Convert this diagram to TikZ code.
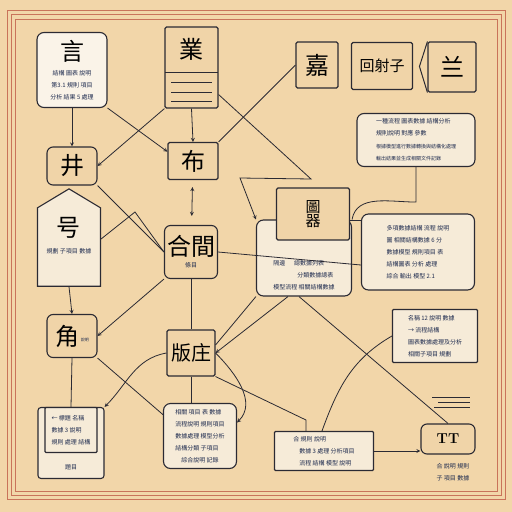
\documentclass[tikz,border=0pt]{standalone}
\usepackage{fontspec}
\usepackage{xcolor}
\usepackage{tikz}
\usetikzlibrary{shapes.symbols}
\newfontfamily\cjk{Noto Sans CJK SC}
\newcommand{\glyph}[1]{{\cjk\fontsize{24}{25}\selectfont #1}}
\newcommand{\midglyph}[1]{{\cjk\fontsize{15}{16}\selectfont #1}}
\newcommand{\mini}[1]{{\cjk\fontsize{6}{7.5}\selectfont\color{textblue}#1}}
\definecolor{paper}{HTML}{F2D6A9}
\definecolor{ink}{HTML}{2B2A33}
\definecolor{boxfill}{HTML}{F0D4A8}
\definecolor{cardfill}{HTML}{F6EBD8}
\definecolor{frame}{HTML}{C9735A}
\definecolor{textblue}{HTML}{1E2B4F}

\begin{document}
\begin{tikzpicture}[x=1pt, y=-1pt]
        % Define styles
        \tikzstyle{glyphbox} = [rectangle, rounded corners=6pt, draw=ink, line width=1.1pt, fill=boxfill, align=center, inner sep=1pt]
        \tikzstyle{plainbox} = [rectangle, rounded corners=1.5pt, draw=ink, line width=1.1pt, fill=boxfill, align=center, inner sep=1pt]
        \tikzstyle{card} = [rectangle, rounded corners=7pt, draw=ink, line width=1.1pt, fill=cardfill, align=left, inner sep=2pt]
        \tikzstyle{sqcard} = [rectangle, rounded corners=1pt, draw=ink, line width=1.1pt, fill=cardfill, align=left, inner sep=2pt]
        \tikzstyle{arrow} = [ink, line width=0.8pt, ->, >=stealth]
        \tikzstyle{link} = [ink, line width=0.8pt]

        % Paper and frame
        \fill[paper] (0,0) rectangle (512,512);
        \useasboundingbox (0,0) rectangle (512,512);
        \draw[frame, line width=0.6pt] (7,10) rectangle (505,499);
        \draw[frame, line width=0.6pt] (11,14) rectangle (501,495);
        \draw[frame, line width=0.6pt] (15,19) rectangle (497,491);

        % Nodes
        \node [card, align=center, fill=cardfill!60!white, minimum width=70pt, minimum height=75pt] (yan) at (72,70)
              {\glyph{言}\\[3pt]\mini{結構 圖表 說明}\\\mini{第3.1 規則 項目}\\\mini{分析 結果 5 處理}};
        \node [plainbox, minimum width=53pt, minimum height=81pt] (ye) at (191.5,67.5) {};
        \node (yetop) at (191.5,49) {\glyph{業}};
        \node [plainbox, minimum width=42pt, minimum height=46pt] (jia) at (317,65) {\glyph{嘉}};
        \node [plainbox, minimum width=61pt, minimum height=47pt] (hui) at (382,66) {\midglyph{回射子}};
        \node [plainbox, minimum width=48pt, minimum height=50pt] (lan) at (452,67) {\glyph{兰}};
        \node [card, minimum width=118pt, minimum height=53pt] (note1) at (416,140)
              {\mini{一種流程 圖表數據 結構分析}\\\mini{規則說明 對應 參數}\\[1pt]\mini{\fontsize{5}{6}\selectfont 根據模型進行數據轉換與結構化處理}\\\mini{\fontsize{5}{6}\selectfont 輸出結果並生成相關文件記錄}};
        \node [glyphbox, minimum width=50pt, minimum height=38pt] (jing) at (72,166) {\glyph{井}};
        \node [plainbox, minimum width=50pt, minimum height=37pt] (bu) at (193,161) {\glyph{布}};
        \node [signal, signal to=north, signal pointer angle=118, draw=ink, line width=1.1pt, fill=cardfill,
               minimum width=63pt, minimum height=79pt, inner sep=1pt] (hao) at (69,247) {};
        \node [align=center] (haotxt) at (69,236) {\glyph{号}\\[5pt]\mini{規劃 子項目 數據}};
        \node [glyphbox, minimum width=53pt, minimum height=53pt] (hejian) at (191,252) {\glyph{合間}\\\mini{條目}};
        \node [card, minimum width=95pt, minimum height=76pt] (panel) at (304,258) {};
        \node [plainbox, minimum width=73pt, minimum height=52pt] (tu) at (313,214) {\midglyph{圖}\\\midglyph{器}};
        \node [align=left] (paneltxt) at (304,275) {\mini{隔邊 \quad\ 總數據列表}\\\mini{\qquad\qquad 分類數據總表}\\\mini{模型流程 相關結構數據}};
        \node [card, minimum width=113pt, minimum height=76pt] (note2) at (418,252)
              {\mini{多項數據結構 流程 說明}\\\mini{圖 相關結構數據 6 分}\\\mini{數據模型 規則項目 表}\\\mini{結構圖表 分析 處理}\\\mini{綜合 輸出 模型 2.1}};
        \node [sqcard, minimum width=85pt, minimum height=53pt] (note3) at (435,336)
              {\mini{名稱 12 說明 數據}\\\mini{→ 流程結構}\\\mini{圖表數據處理及分析}\\\mini{相關子項目 規劃}};
        \node [glyphbox, minimum width=50pt, minimum height=43pt] (jiao) at (72,336) {\glyph{角}\,\raisebox{4pt}{\mini{\fontsize{4}{5}\selectfont 說明}}};
        \node [plainbox, minimum width=48pt, minimum height=46pt] (ban) at (191,353) {{\cjk\fontsize{20}{20}\selectfont 版庄}};
        \node [plainbox, rounded corners=3pt, fill=cardfill, minimum width=66pt, minimum height=71pt] (left) at (71,443) {};
        \node [sqcard, minimum width=52pt, minimum height=45pt] (leftin) at (71,430)
              {\mini{← 標題 名稱}\\\mini{數據 3 說明}\\\mini{規則 處理 結構}};
        \node (lefttag) at (71,467) {\mini{題目}};
        \node [card, minimum width=73pt, minimum height=65pt] (mid) at (200,436)
              {\mini{相關 項目 表 數據}\\\mini{流程說明 規則項目}\\\mini{數據處理 模型分析}\\\mini{結構分類 子項目}\\\mini{\quad 綜合說明 記錄}};
        \node [sqcard, minimum width=99pt, minimum height=39pt] (right) at (324,451)
              {\mini{合 規則 說明}\\\mini{\quad 數據 3 處理 分析項目}\\\mini{\quad 流程 結構 模型 說明}};
        \node [glyphbox, minimum width=54pt, minimum height=30pt] (tt) at (448,439) {\textbf{\Large TT}};
        \node [align=center] (ttnote) at (453,472) {\mini{合 說明 規則}\\\mini{子 項目 數據}};

        % Shapes inside boxes
        \draw[link, line width=1pt] (165,72) -- (218,72);
        \foreach \yy in {82,92,101} \draw[link] (171,\yy) -- (212,\yy);
        \draw[link, line width=1pt] (lan.north west) -- ++(-8,25) -- (lan.south west);
        \foreach \yy/\xa in {397/432,402/438,407/434} \draw[link, line width=1pt] (\xa,\yy) -- (470,\yy);

        % Arrows
        \draw [arrow] (yan) -- (jing);
        \draw [arrow] (yan.south east) -- (bu.160);
        \draw [arrow] (ye.south west) -- (jing.east);
        \draw [arrow] (ye.south) -- (bu.north);
        \draw [link] (jia.west) -- (bu.north east);
        \draw [arrow] ([yshift=-27pt]ye.east) -- (311,179) -- (240,178) -- (panel.north west);
        \draw [arrow, <->, shorten <=7pt, shorten >=9pt] (bu) -- (hejian);
        \draw [link] (jing.south east) -- (hejian.west);
        \draw [link] ([yshift=8pt]hao.east) -- (135,212) -- (hejian.west);
        \draw [arrow] (hao.south) -- (jiao.north);
        \draw [arrow] (hejian.south west) -- (jiao.east);
        \draw [link] (hejian.east) -- ([yshift=-13pt]note2.west);
        \draw [link] ([yshift=-6pt]tu.east) -- ([yshift=32pt]note2.west);
        \draw [link] (note1.south) -- ++(0,35) to[out=180,in=80] (panel.north east);
        \draw [link] ([xshift=-5pt]panel.south) -- (tt.north);
        \draw [link] (panel.south west) -- ([yshift=8pt]ban.east);
        \draw [arrow] ([xshift=-16pt]panel.south) -- (ban.east);
        \draw [link] (hejian.south) -- (ban.north);
        \draw [link] (ban.south) -- (ban.south |- mid.north);
        \draw [link] (ban.south east) -- (306,420) -- ([xshift=-18pt]right.north);
        \draw [arrow] (ban.east) to[out=-45,in=45] (mid.20);
        \draw [arrow] (ban.west) to[out=190,in=45] (left.north east);
        \draw [link] (jiao.south) -- (leftin.north);
        \draw [link] (jiao.south east) -- (mid.150);
        \draw [link] (note3.west) to[out=210,in=70] ([xshift=-2pt]right.north);
        \draw [arrow] (right.east) -- (right.east -| tt.west);
    \end{tikzpicture}
\end{document}
